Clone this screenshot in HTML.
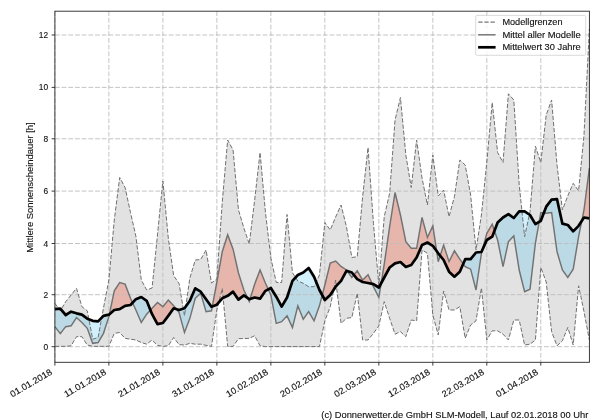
<!DOCTYPE html>
<html><head><meta charset="utf-8"><style>
html,body{margin:0;padding:0;background:#fff;}
svg{display:block;}
text{font-family:"Liberation Sans",sans-serif;fill:#111;stroke:#111;stroke-width:0.12px;}
svg{will-change:transform;}
</style></head><body>
<svg width="600" height="420" viewBox="0 0 600 420">
<rect x="0" y="0" width="600" height="420" fill="#fff"/>
<polygon points="54.90,303.33 60.30,310.83 65.70,301.67 71.10,295.00 76.50,288.33 81.89,306.67 87.29,310.83 92.69,339.17 98.09,337.50 103.49,308.00 108.89,280.00 114.29,220.00 119.69,177.50 125.09,187.50 130.49,212.50 135.88,236.25 141.28,280.00 146.68,290.00 152.08,288.00 157.48,235.00 162.88,181.00 168.28,238.00 173.68,275.70 179.08,283.60 184.48,315.70 189.87,278.00 195.27,260.00 200.67,259.50 206.07,250.00 211.47,283.00 216.87,279.00 222.27,202.00 227.67,140.00 233.07,150.00 238.47,210.00 243.86,228.00 249.26,244.00 254.66,200.00 260.06,152.50 265.46,212.50 270.86,258.00 276.26,282.50 281.66,282.50 287.06,214.50 292.46,272.80 297.85,281.00 303.25,283.30 308.65,286.70 314.05,286.70 319.45,275.00 324.85,222.50 330.25,230.00 335.65,217.00 341.05,205.00 346.45,226.67 351.84,257.50 357.24,256.67 362.64,196.67 368.04,147.50 373.44,223.33 378.84,285.00 384.24,216.67 389.64,193.33 395.04,120.00 400.44,97.50 405.83,155.00 411.23,187.50 416.63,140.00 422.03,178.00 427.43,205.00 432.83,155.00 438.23,196.00 443.63,190.00 449.03,216.67 454.43,196.67 459.82,160.00 465.22,165.00 470.62,195.00 476.02,250.00 481.42,215.00 486.82,162.00 492.22,102.50 497.62,152.50 503.02,162.50 508.42,93.75 513.81,100.00 519.21,185.00 524.61,236.67 530.01,211.67 535.41,146.25 540.81,162.50 546.21,115.00 551.61,100.00 557.01,165.00 562.41,210.00 567.80,195.83 573.20,183.33 578.60,190.83 584.00,135.00 589.40,29.00 589.40,340.00 584.00,311.67 578.60,285.83 573.20,345.00 567.80,327.50 562.41,340.83 557.01,345.83 551.61,331.67 546.21,282.00 540.81,267.50 535.41,340.00 530.01,344.17 524.61,345.00 519.21,320.00 513.81,320.00 508.42,340.00 503.02,334.17 497.62,330.83 492.22,330.83 486.82,340.00 481.42,288.00 476.02,320.83 470.62,325.00 465.22,338.33 459.82,306.67 454.43,310.00 449.03,310.00 443.63,291.00 438.23,335.00 432.83,315.00 427.43,253.33 422.03,250.00 416.63,320.83 411.23,320.00 405.83,336.67 400.44,331.67 395.04,334.17 389.64,318.33 384.24,301.67 378.84,325.83 373.44,333.33 368.04,340.00 362.64,340.00 357.24,293.33 351.84,317.50 346.45,318.33 341.05,323.33 335.65,280.00 330.25,306.70 324.85,320.80 319.45,346.60 314.05,346.60 308.65,346.60 303.25,346.60 297.85,346.60 292.46,346.60 287.06,346.60 281.66,346.60 276.26,346.60 270.86,346.60 265.46,346.60 260.06,345.80 254.66,335.80 249.26,338.30 243.86,338.60 238.47,338.60 233.07,346.40 227.67,346.40 222.27,288.50 216.87,310.00 211.47,346.40 206.07,345.33 200.67,344.17 195.27,344.17 189.87,343.33 184.48,345.00 179.08,344.67 173.68,337.50 168.28,345.83 162.88,346.33 157.48,345.33 152.08,340.00 146.68,344.17 141.28,342.50 135.88,340.00 130.49,339.17 125.09,338.33 119.69,332.50 114.29,333.33 108.89,346.33 103.49,346.33 98.09,346.33 92.69,346.33 87.29,345.00 81.89,336.67 76.50,336.67 71.10,345.83 65.70,346.33 60.30,346.33 54.90,346.33" fill="#e2e2e2"/>
<g fill="rgb(242,42,1)" fill-opacity="0.24"><polygon points="109.40,314.23 114.29,290.83 119.69,282.50 125.09,284.17 130.49,298.33 132.54,302.78 132.54,302.78 130.49,305.00 125.09,305.83 119.69,309.17 114.29,310.00 109.40,314.23"/><polygon points="150.44,310.11 152.08,308.33 157.48,302.50 162.88,306.67 168.28,300.00 173.68,305.83 176.38,309.17 176.38,309.17 173.68,308.33 168.28,315.83 162.88,323.00 157.48,324.17 152.08,314.17 150.44,310.11"/><polygon points="212.31,306.36 216.87,282.00 222.27,251.70 227.67,234.70 233.07,249.20 238.47,273.00 243.86,290.00 247.67,298.04 247.67,298.04 243.86,295.33 238.47,299.67 233.07,291.67 227.67,295.83 222.27,298.33 216.87,304.67 212.31,306.36"/><polygon points="250.04,298.93 254.66,284.17 260.06,270.00 265.46,283.33 268.25,289.37 268.25,289.37 265.46,290.83 260.06,298.67 254.66,297.50 250.04,298.93"/><polygon points="322.22,295.14 324.85,285.00 330.25,263.00 335.65,261.00 341.05,266.40 346.45,270.00 347.22,271.07 347.22,271.07 346.45,270.83 341.05,280.83 335.65,286.67 330.25,295.00 324.85,300.00 322.22,295.14"/><polygon points="353.87,275.00 357.24,270.83 362.64,280.00 368.04,274.67 372.19,283.90 372.19,283.90 368.04,283.00 362.64,282.00 357.24,279.17 353.87,275.00"/><polygon points="381.15,283.21 384.24,264.17 389.64,226.67 395.04,192.50 400.44,215.00 405.83,241.67 411.23,248.33 416.63,248.33 422.03,217.50 427.43,237.50 432.83,225.83 436.64,251.13 436.64,251.13 432.83,245.83 427.43,242.50 422.03,245.00 416.63,257.50 411.23,265.00 405.83,267.00 400.44,262.00 395.04,263.33 389.64,267.50 384.24,277.50 381.15,283.21"/><polygon points="440.16,255.71 443.63,245.00 449.03,261.67 454.43,250.83 459.82,259.17 463.20,263.85 463.20,263.85 459.82,271.67 454.43,276.67 449.03,271.67 443.63,260.00 440.16,255.71"/><polygon points="482.32,250.00 486.82,233.33 492.22,224.17 494.47,230.76 494.47,230.76 492.22,236.67 486.82,240.00 482.32,250.00"/><polygon points="539.15,221.86 540.81,212.50 543.81,212.96 543.81,212.96 540.81,220.83 539.15,221.86"/><polygon points="581.79,220.91 584.00,210.00 589.40,168.00 589.40,218.33 584.00,217.50 581.79,220.91"/></g>
<g fill="rgb(67,192,242)" fill-opacity="0.24"><polygon points="54.90,326.67 60.30,333.67 65.70,326.67 71.10,325.83 76.50,317.50 81.89,322.50 87.29,328.33 92.69,343.33 98.09,342.50 103.49,333.33 108.89,316.67 109.40,314.23 109.40,314.23 108.89,314.67 103.49,315.83 98.09,321.33 92.69,320.83 87.29,318.67 81.89,314.67 76.50,313.33 71.10,311.67 65.70,315.00 60.30,308.67 54.90,309.17"/><polygon points="132.54,302.78 135.88,310.00 141.28,322.50 146.68,314.17 150.44,310.11 150.44,310.11 146.68,300.83 141.28,297.00 135.88,299.17 132.54,302.78"/><polygon points="176.38,309.17 179.08,312.50 184.48,332.50 189.87,318.33 195.27,298.33 200.67,293.33 206.07,311.67 211.47,310.83 212.31,306.36 212.31,306.36 211.47,306.67 206.07,299.17 200.67,291.67 195.27,288.33 189.87,300.83 184.48,308.33 179.08,310.00 176.38,309.17"/><polygon points="247.67,298.04 249.26,301.40 250.04,298.93 250.04,298.93 249.26,299.17 247.67,298.04"/><polygon points="268.25,289.37 270.86,295.00 276.26,323.33 281.66,321.67 287.06,315.83 292.46,327.50 297.85,305.83 303.25,319.17 308.65,311.67 314.05,320.83 319.45,305.83 322.22,295.14 322.22,295.14 319.45,290.00 314.05,276.67 308.65,268.00 303.25,272.50 297.85,275.00 292.46,280.83 287.06,297.50 281.66,306.67 276.26,296.67 270.86,288.00 268.25,289.37"/><polygon points="347.22,271.07 351.84,277.50 353.87,275.00 353.87,275.00 351.84,272.50 347.22,271.07"/><polygon points="372.19,283.90 373.44,286.67 378.84,297.50 381.15,283.21 381.15,283.21 378.84,287.50 373.44,284.17 372.19,283.90"/><polygon points="436.64,251.13 438.23,261.67 440.16,255.71 440.16,255.71 438.23,253.33 436.64,251.13"/><polygon points="463.20,263.85 465.22,266.67 470.62,269.17 476.02,290.00 481.42,253.33 482.32,250.00 482.32,250.00 481.42,252.00 476.02,252.50 470.62,259.17 465.22,259.17 463.20,263.85"/><polygon points="494.47,230.76 497.62,240.00 503.02,266.67 508.42,241.67 513.81,235.83 519.21,270.00 524.61,291.67 530.01,289.17 535.41,243.00 539.15,221.86 539.15,221.86 535.41,224.17 530.01,215.00 524.61,211.33 519.21,211.33 513.81,218.00 508.42,214.17 503.02,217.50 497.62,222.50 494.47,230.76"/><polygon points="543.81,212.96 546.21,213.33 551.61,212.50 557.01,251.67 562.41,270.00 567.80,277.50 573.20,269.17 578.60,236.67 581.79,220.91 581.79,220.91 578.60,225.83 573.20,231.33 567.80,225.00 562.41,223.67 557.01,199.17 551.61,199.67 546.21,206.67 543.81,212.96"/></g>
<g stroke="#bdbdbd" stroke-width="0.9" stroke-dasharray="4.8,1.9"><line x1="54.90" y1="346.70" x2="589.40" y2="346.70"/><line x1="54.90" y1="294.70" x2="589.40" y2="294.70"/><line x1="54.90" y1="243.50" x2="589.40" y2="243.50"/><line x1="54.90" y1="191.10" x2="589.40" y2="191.10"/><line x1="54.90" y1="138.80" x2="589.40" y2="138.80"/><line x1="54.90" y1="87.40" x2="589.40" y2="87.40"/><line x1="54.90" y1="35.00" x2="589.40" y2="35.00"/><line x1="54.90" y1="11.20" x2="54.90" y2="362.30"/><line x1="108.89" y1="11.20" x2="108.89" y2="362.30"/><line x1="162.88" y1="11.20" x2="162.88" y2="362.30"/><line x1="216.87" y1="11.20" x2="216.87" y2="362.30"/><line x1="270.86" y1="11.20" x2="270.86" y2="362.30"/><line x1="324.85" y1="11.20" x2="324.85" y2="362.30"/><line x1="378.84" y1="11.20" x2="378.84" y2="362.30"/><line x1="432.83" y1="11.20" x2="432.83" y2="362.30"/><line x1="486.82" y1="11.20" x2="486.82" y2="362.30"/><line x1="540.81" y1="11.20" x2="540.81" y2="362.30"/></g>
<polyline points="54.90,303.33 60.30,310.83 65.70,301.67 71.10,295.00 76.50,288.33 81.89,306.67 87.29,310.83 92.69,339.17 98.09,337.50 103.49,308.00 108.89,280.00 114.29,220.00 119.69,177.50 125.09,187.50 130.49,212.50 135.88,236.25 141.28,280.00 146.68,290.00 152.08,288.00 157.48,235.00 162.88,181.00 168.28,238.00 173.68,275.70 179.08,283.60 184.48,315.70 189.87,278.00 195.27,260.00 200.67,259.50 206.07,250.00 211.47,283.00 216.87,279.00 222.27,202.00 227.67,140.00 233.07,150.00 238.47,210.00 243.86,228.00 249.26,244.00 254.66,200.00 260.06,152.50 265.46,212.50 270.86,258.00 276.26,282.50 281.66,282.50 287.06,214.50 292.46,272.80 297.85,281.00 303.25,283.30 308.65,286.70 314.05,286.70 319.45,275.00 324.85,222.50 330.25,230.00 335.65,217.00 341.05,205.00 346.45,226.67 351.84,257.50 357.24,256.67 362.64,196.67 368.04,147.50 373.44,223.33 378.84,285.00 384.24,216.67 389.64,193.33 395.04,120.00 400.44,97.50 405.83,155.00 411.23,187.50 416.63,140.00 422.03,178.00 427.43,205.00 432.83,155.00 438.23,196.00 443.63,190.00 449.03,216.67 454.43,196.67 459.82,160.00 465.22,165.00 470.62,195.00 476.02,250.00 481.42,215.00 486.82,162.00 492.22,102.50 497.62,152.50 503.02,162.50 508.42,93.75 513.81,100.00 519.21,185.00 524.61,236.67 530.01,211.67 535.41,146.25 540.81,162.50 546.21,115.00 551.61,100.00 557.01,165.00 562.41,210.00 567.80,195.83 573.20,183.33 578.60,190.83 584.00,135.00 589.40,29.00" fill="none" stroke="#707070" stroke-width="1.0" stroke-dasharray="4.3,1.8"/>
<polyline points="54.90,346.33 60.30,346.33 65.70,346.33 71.10,345.83 76.50,336.67 81.89,336.67 87.29,345.00 92.69,346.33 98.09,346.33 103.49,346.33 108.89,346.33 114.29,333.33 119.69,332.50 125.09,338.33 130.49,339.17 135.88,340.00 141.28,342.50 146.68,344.17 152.08,340.00 157.48,345.33 162.88,346.33 168.28,345.83 173.68,337.50 179.08,344.67 184.48,345.00 189.87,343.33 195.27,344.17 200.67,344.17 206.07,345.33 211.47,346.40 216.87,310.00 222.27,288.50 227.67,346.40 233.07,346.40 238.47,338.60 243.86,338.60 249.26,338.30 254.66,335.80 260.06,345.80 265.46,346.60 270.86,346.60 276.26,346.60 281.66,346.60 287.06,346.60 292.46,346.60 297.85,346.60 303.25,346.60 308.65,346.60 314.05,346.60 319.45,346.60 324.85,320.80 330.25,306.70 335.65,280.00 341.05,323.33 346.45,318.33 351.84,317.50 357.24,293.33 362.64,340.00 368.04,340.00 373.44,333.33 378.84,325.83 384.24,301.67 389.64,318.33 395.04,334.17 400.44,331.67 405.83,336.67 411.23,320.00 416.63,320.83 422.03,250.00 427.43,253.33 432.83,315.00 438.23,335.00 443.63,291.00 449.03,310.00 454.43,310.00 459.82,306.67 465.22,338.33 470.62,325.00 476.02,320.83 481.42,288.00 486.82,340.00 492.22,330.83 497.62,330.83 503.02,334.17 508.42,340.00 513.81,320.00 519.21,320.00 524.61,345.00 530.01,344.17 535.41,340.00 540.81,267.50 546.21,282.00 551.61,331.67 557.01,345.83 562.41,340.83 567.80,327.50 573.20,345.00 578.60,285.83 584.00,311.67 589.40,340.00" fill="none" stroke="#707070" stroke-width="1.0" stroke-dasharray="4.3,1.8"/>
<polyline points="54.90,326.67 60.30,333.67 65.70,326.67 71.10,325.83 76.50,317.50 81.89,322.50 87.29,328.33 92.69,343.33 98.09,342.50 103.49,333.33 108.89,316.67 114.29,290.83 119.69,282.50 125.09,284.17 130.49,298.33 135.88,310.00 141.28,322.50 146.68,314.17 152.08,308.33 157.48,302.50 162.88,306.67 168.28,300.00 173.68,305.83 179.08,312.50 184.48,332.50 189.87,318.33 195.27,298.33 200.67,293.33 206.07,311.67 211.47,310.83 216.87,282.00 222.27,251.70 227.67,234.70 233.07,249.20 238.47,273.00 243.86,290.00 249.26,301.40 254.66,284.17 260.06,270.00 265.46,283.33 270.86,295.00 276.26,323.33 281.66,321.67 287.06,315.83 292.46,327.50 297.85,305.83 303.25,319.17 308.65,311.67 314.05,320.83 319.45,305.83 324.85,285.00 330.25,263.00 335.65,261.00 341.05,266.40 346.45,270.00 351.84,277.50 357.24,270.83 362.64,280.00 368.04,274.67 373.44,286.67 378.84,297.50 384.24,264.17 389.64,226.67 395.04,192.50 400.44,215.00 405.83,241.67 411.23,248.33 416.63,248.33 422.03,217.50 427.43,237.50 432.83,225.83 438.23,261.67 443.63,245.00 449.03,261.67 454.43,250.83 459.82,259.17 465.22,266.67 470.62,269.17 476.02,290.00 481.42,253.33 486.82,233.33 492.22,224.17 497.62,240.00 503.02,266.67 508.42,241.67 513.81,235.83 519.21,270.00 524.61,291.67 530.01,289.17 535.41,243.00 540.81,212.50 546.21,213.33 551.61,212.50 557.01,251.67 562.41,270.00 567.80,277.50 573.20,269.17 578.60,236.67 584.00,210.00 589.40,168.00" fill="none" stroke="#727272" stroke-width="1.45" stroke-linejoin="miter"/>
<polyline points="54.90,309.17 60.30,308.67 65.70,315.00 71.10,311.67 76.50,313.33 81.89,314.67 87.29,318.67 92.69,320.83 98.09,321.33 103.49,315.83 108.89,314.67 114.29,310.00 119.69,309.17 125.09,305.83 130.49,305.00 135.88,299.17 141.28,297.00 146.68,300.83 152.08,314.17 157.48,324.17 162.88,323.00 168.28,315.83 173.68,308.33 179.08,310.00 184.48,308.33 189.87,300.83 195.27,288.33 200.67,291.67 206.07,299.17 211.47,306.67 216.87,304.67 222.27,298.33 227.67,295.83 233.07,291.67 238.47,299.67 243.86,295.33 249.26,299.17 254.66,297.50 260.06,298.67 265.46,290.83 270.86,288.00 276.26,296.67 281.66,306.67 287.06,297.50 292.46,280.83 297.85,275.00 303.25,272.50 308.65,268.00 314.05,276.67 319.45,290.00 324.85,300.00 330.25,295.00 335.65,286.67 341.05,280.83 346.45,270.83 351.84,272.50 357.24,279.17 362.64,282.00 368.04,283.00 373.44,284.17 378.84,287.50 384.24,277.50 389.64,267.50 395.04,263.33 400.44,262.00 405.83,267.00 411.23,265.00 416.63,257.50 422.03,245.00 427.43,242.50 432.83,245.83 438.23,253.33 443.63,260.00 449.03,271.67 454.43,276.67 459.82,271.67 465.22,259.17 470.62,259.17 476.02,252.50 481.42,252.00 486.82,240.00 492.22,236.67 497.62,222.50 503.02,217.50 508.42,214.17 513.81,218.00 519.21,211.33 524.61,211.33 530.01,215.00 535.41,224.17 540.81,220.83 546.21,206.67 551.61,199.67 557.01,199.17 562.41,223.67 567.80,225.00 573.20,231.33 578.60,225.83 584.00,217.50 589.40,218.33" fill="none" stroke="#000" stroke-width="2.7" stroke-linejoin="round"/>
<rect x="54.9" y="11.2" width="534.5" height="351.1" fill="none" stroke="#262626" stroke-width="0.9"/>
<g stroke="#262626" stroke-width="0.9"><line x1="51.60" y1="346.70" x2="54.90" y2="346.70"/><line x1="51.60" y1="294.70" x2="54.90" y2="294.70"/><line x1="51.60" y1="243.50" x2="54.90" y2="243.50"/><line x1="51.60" y1="191.10" x2="54.90" y2="191.10"/><line x1="51.60" y1="138.80" x2="54.90" y2="138.80"/><line x1="51.60" y1="87.40" x2="54.90" y2="87.40"/><line x1="51.60" y1="35.00" x2="54.90" y2="35.00"/><line x1="54.90" y1="362.30" x2="54.90" y2="365.60"/><line x1="108.89" y1="362.30" x2="108.89" y2="365.60"/><line x1="162.88" y1="362.30" x2="162.88" y2="365.60"/><line x1="216.87" y1="362.30" x2="216.87" y2="365.60"/><line x1="270.86" y1="362.30" x2="270.86" y2="365.60"/><line x1="324.85" y1="362.30" x2="324.85" y2="365.60"/><line x1="378.84" y1="362.30" x2="378.84" y2="365.60"/><line x1="432.83" y1="362.30" x2="432.83" y2="365.60"/><line x1="486.82" y1="362.30" x2="486.82" y2="365.60"/><line x1="540.81" y1="362.30" x2="540.81" y2="365.60"/></g>
<g font-size="8.4"><text x="48.2" y="349.70" text-anchor="end">0</text><text x="48.2" y="297.70" text-anchor="end">2</text><text x="48.2" y="246.50" text-anchor="end">4</text><text x="48.2" y="194.10" text-anchor="end">6</text><text x="48.2" y="141.80" text-anchor="end">8</text><text x="48.2" y="90.40" text-anchor="end">10</text><text x="48.2" y="38.00" text-anchor="end">12</text><text transform="translate(52.90,373.90) rotate(-30)" text-anchor="end" font-size="8.9" textLength="47" lengthAdjust="spacingAndGlyphs">01.01.2018</text><text transform="translate(106.89,373.90) rotate(-30)" text-anchor="end" font-size="8.9" textLength="47" lengthAdjust="spacingAndGlyphs">11.01.2018</text><text transform="translate(160.88,373.90) rotate(-30)" text-anchor="end" font-size="8.9" textLength="47" lengthAdjust="spacingAndGlyphs">21.01.2018</text><text transform="translate(214.87,373.90) rotate(-30)" text-anchor="end" font-size="8.9" textLength="47" lengthAdjust="spacingAndGlyphs">31.01.2018</text><text transform="translate(268.86,373.90) rotate(-30)" text-anchor="end" font-size="8.9" textLength="47" lengthAdjust="spacingAndGlyphs">10.02.2018</text><text transform="translate(322.85,373.90) rotate(-30)" text-anchor="end" font-size="8.9" textLength="47" lengthAdjust="spacingAndGlyphs">20.02.2018</text><text transform="translate(376.84,373.90) rotate(-30)" text-anchor="end" font-size="8.9" textLength="47" lengthAdjust="spacingAndGlyphs">02.03.2018</text><text transform="translate(430.83,373.90) rotate(-30)" text-anchor="end" font-size="8.9" textLength="47" lengthAdjust="spacingAndGlyphs">12.03.2018</text><text transform="translate(484.82,373.90) rotate(-30)" text-anchor="end" font-size="8.9" textLength="47" lengthAdjust="spacingAndGlyphs">22.03.2018</text><text transform="translate(538.81,373.90) rotate(-30)" text-anchor="end" font-size="8.9" textLength="47" lengthAdjust="spacingAndGlyphs">01.04.2018</text></g>
<text transform="translate(33.4,187.5) rotate(-90)" text-anchor="middle" font-size="8.4" textLength="130.5" lengthAdjust="spacingAndGlyphs">Mittlere Sonnenscheindauer [h]</text>
<rect x="475.7" y="15.4" width="110" height="39.9" rx="1.5" fill="#fff" fill-opacity="0.8" stroke="#d0d0d0" stroke-width="0.8"/>
<line x1="478.3" y1="22.1" x2="495.6" y2="22.1" stroke="#555" stroke-width="1.0" stroke-dasharray="4.3,1.8"/>
<line x1="478.1" y1="34.8" x2="495.6" y2="34.8" stroke="#727272" stroke-width="1.45"/>
<line x1="478.1" y1="47.3" x2="495.6" y2="47.3" stroke="#000" stroke-width="2.7"/>
<g font-size="8.4">
<text x="502.4" y="25.2" textLength="60.1" lengthAdjust="spacingAndGlyphs">Modellgrenzen</text>
<text x="502.4" y="37.7" textLength="78.3" lengthAdjust="spacingAndGlyphs">Mittel aller Modelle</text>
<text x="502.4" y="50.2" textLength="78.3" lengthAdjust="spacingAndGlyphs">Mittelwert 30 Jahre</text>
</g>
<text x="321.3" y="418" font-size="8.4" textLength="267" lengthAdjust="spacingAndGlyphs">(c) Donnerwetter.de GmbH SLM-Modell, Lauf 02.01.2018 00 Uhr</text>
</svg>
</body></html>
